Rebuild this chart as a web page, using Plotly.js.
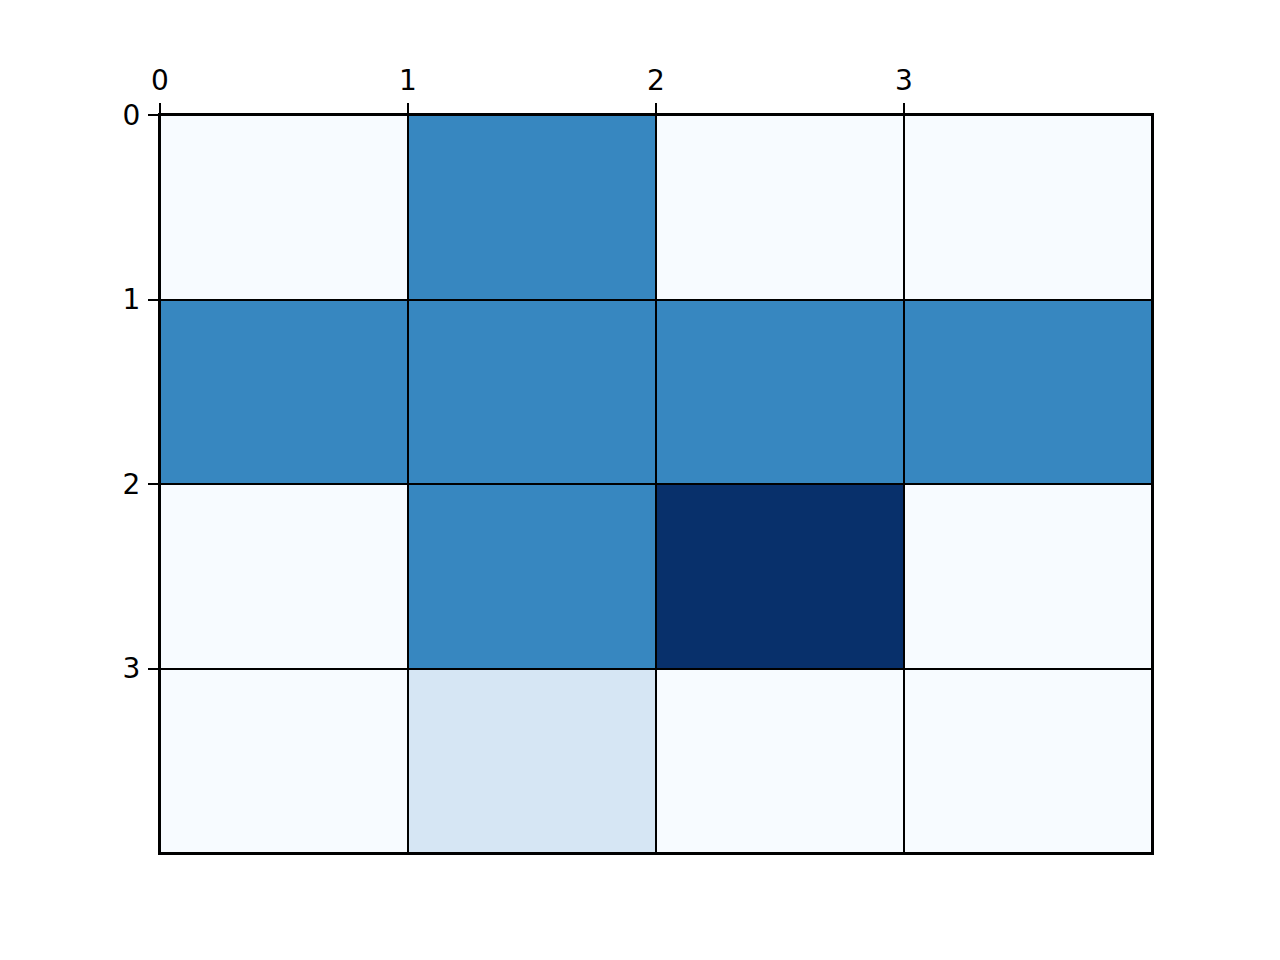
<!DOCTYPE html>
<html>
<head>
<meta charset="utf-8">
<script src="https://cdn.plot.ly/plotly-3.0.1.min.js"></script>
<style>
  html, body { margin: 0; padding: 0; background: #fff; }
  #chart { width: 1280px; height: 960px; }
</style>
</head>
<body>
<div id="chart"></div>
<script>
// cell edges and grid values
const xEdges = [0, 1, 2, 3, 4];
const yEdges = [0, 1, 2, 3, 4];
const row0 = [0, 2, 0, 0];
const row1 = [2, 2, 2, 2];
const row2 = [0, 2, 3, 0];
const row3 = [0, 0.5, 0, 0];
const tickVals = [0, 1, 2, 3];

// matplotlib Blues
const blues = [
    [0, '#f7fbff'],
    [0.125, '#deebf7'],
    [0.25, '#c6dbef'],
    [0.375, '#9ecae1'],
    [0.5, '#6baed6'],
    [0.625, '#4292c6'],
    [0.75, '#2171b5'],
    [0.875, '#08519c'],
    [1, '#08306b']
];

const trace = {
    type: 'heatmap',
    x: xEdges,
    y: yEdges,
    z: [row0, row1, row2, row3],
    zmin: 0,
    zmax: 3,
    colorscale: blues,
    showscale: false,
    xgap: 2,
    ygap: 2,
    hoverinfo: 'z'
};

const axisCommon = {
    showgrid: false,
    zeroline: false,
    showline: true,
    linecolor: '#000',
    linewidth: 2,
    mirror: true,
    ticks: 'outside',
    ticklen: 10,
    tickwidth: 2,
    tickcolor: '#000',
    ticklabelstandoff: 2,
    tickmode: 'array',
    tickvals: tickVals,
    ticktext: tickVals.map(String),
    tickfont: { family: 'DejaVu Sans', size: 28, color: '#000' }
};

const layout = {
    width: 1280,
    height: 960,
    margin: { l: 160, r: 128, t: 115, b: 107 },
    paper_bgcolor: '#fff',
    plot_bgcolor: '#000',
    showlegend: false,
    xaxis: Object.assign({}, axisCommon, { range: [0, 4], side: 'top' }),
    yaxis: Object.assign({}, axisCommon, { range: [4, 0] })
};

Plotly.newPlot('chart', [trace], layout, { displayModeBar: false, staticPlot: true });
</script>
</body>
</html>
